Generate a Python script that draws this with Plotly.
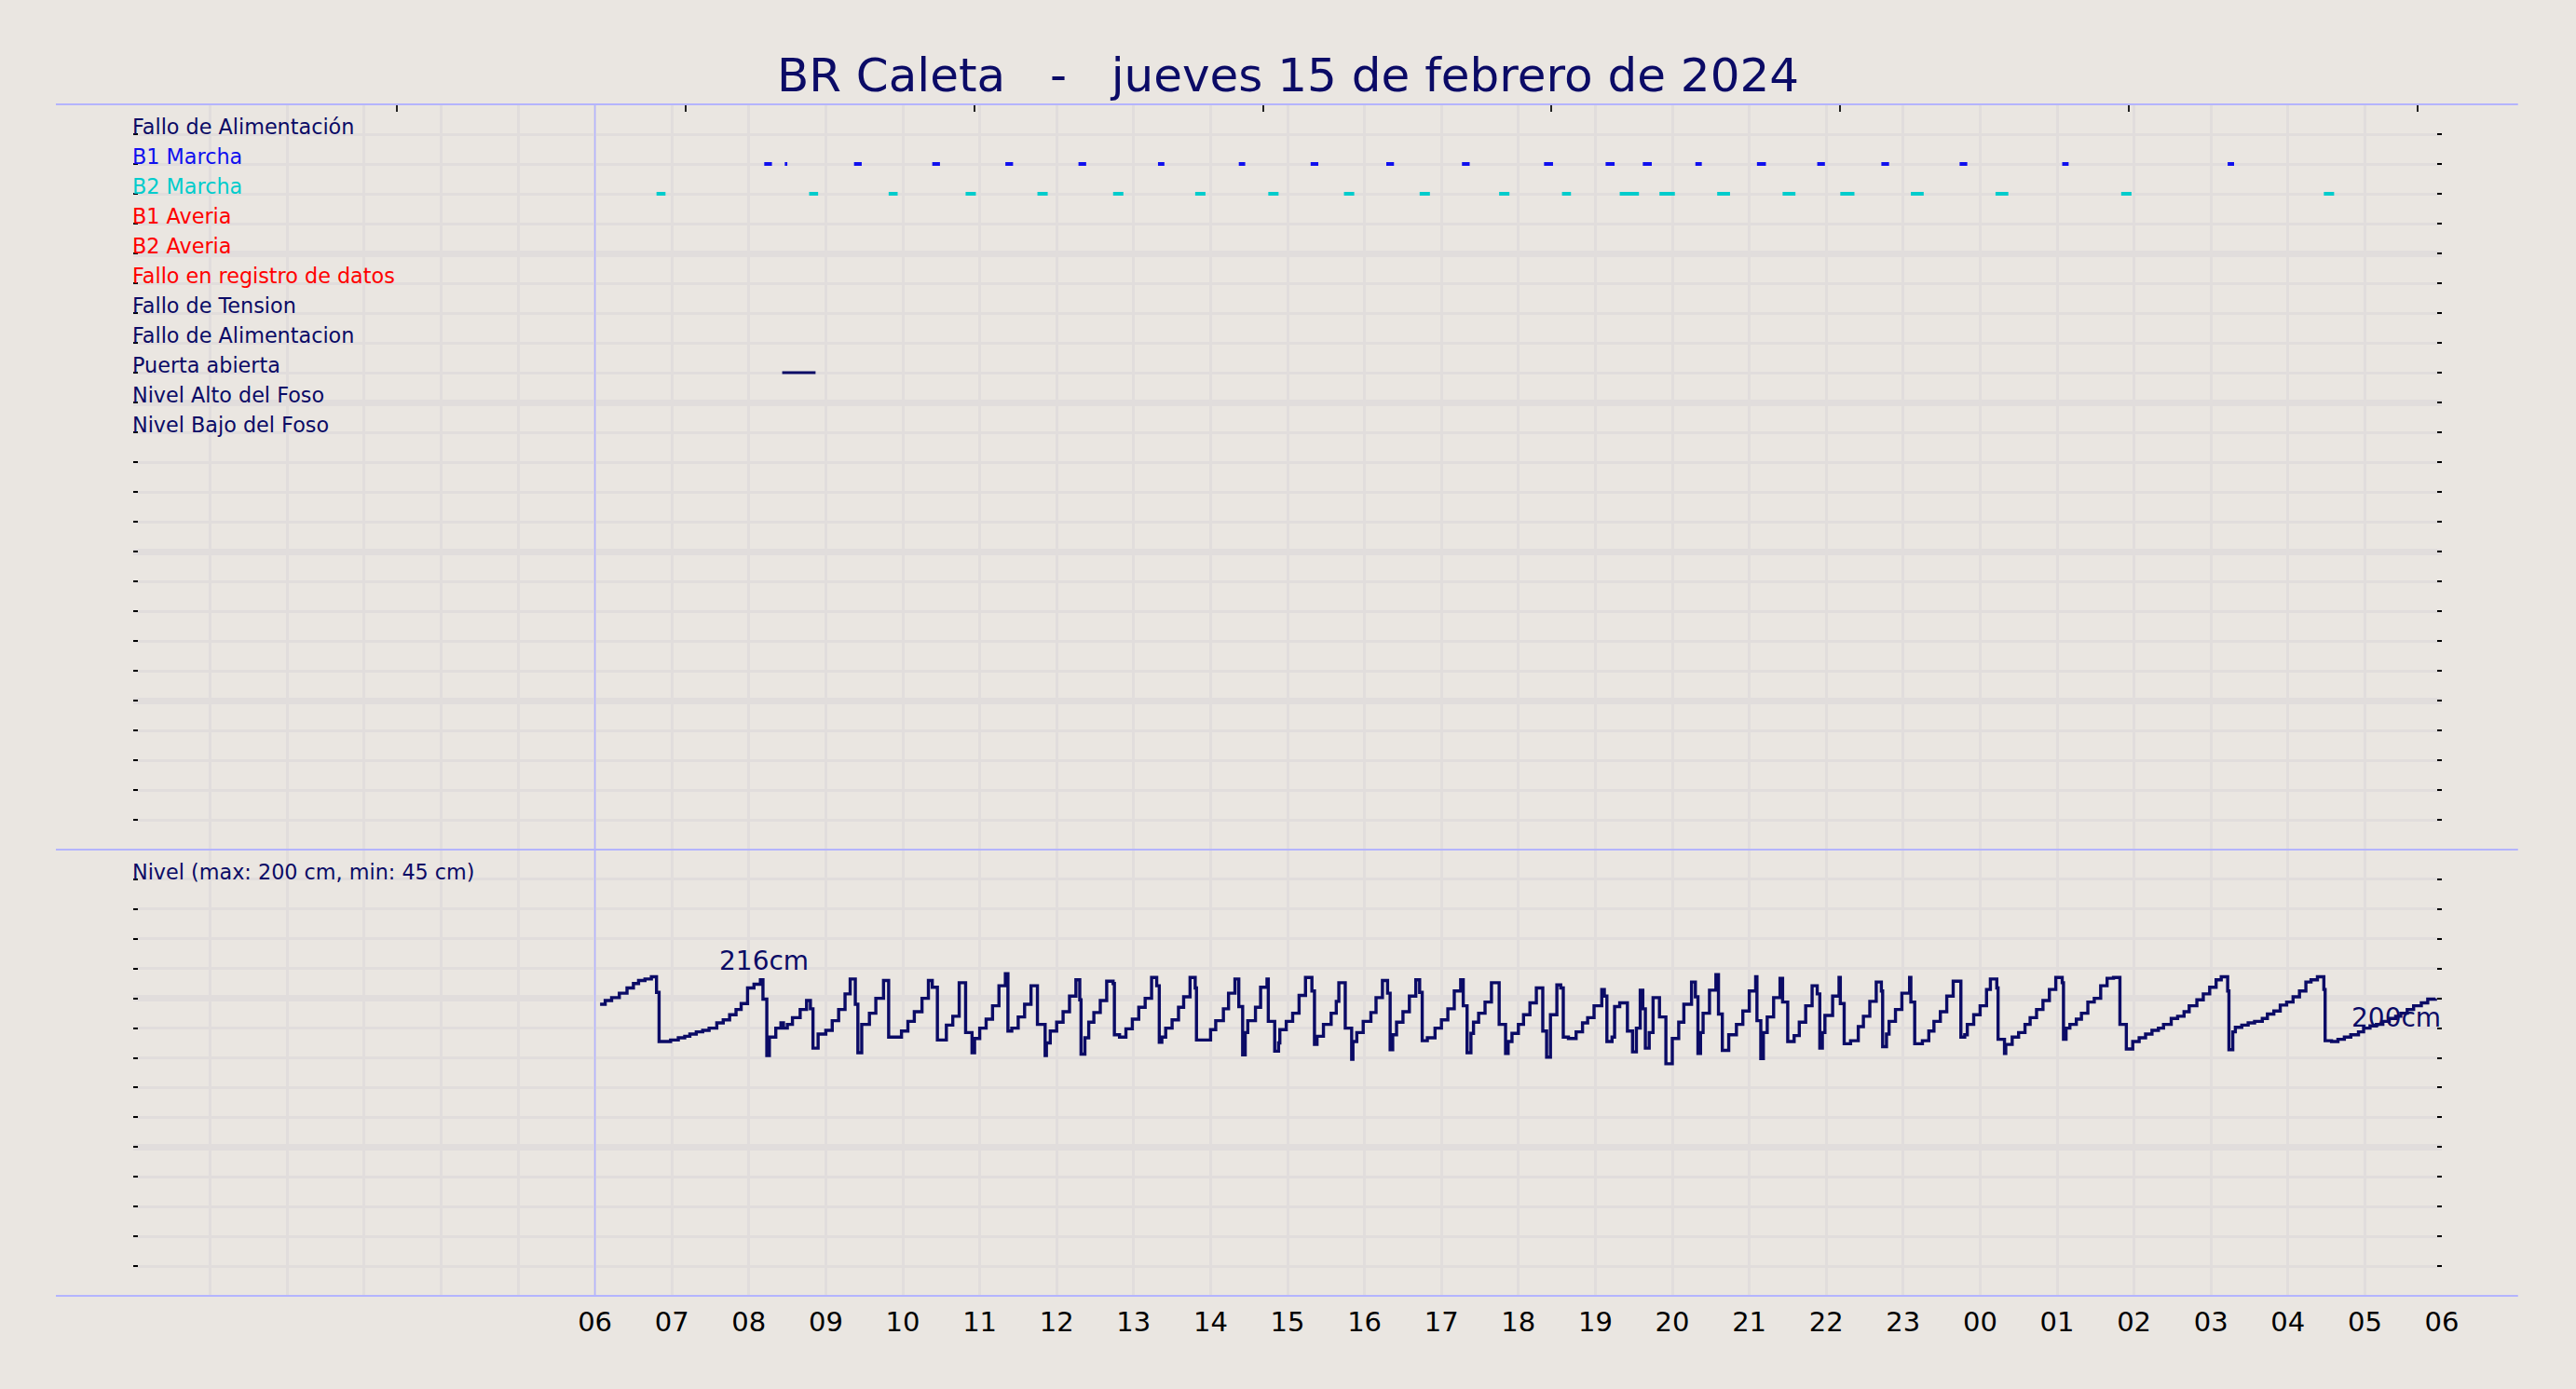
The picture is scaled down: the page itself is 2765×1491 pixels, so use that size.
import plotly.graph_objects as go
from datetime import datetime, timedelta

# ---------------- data ----------------
TITLE = "BR Caleta\u00a0\u00a0\u00a0-\u00a0\u00a0\u00a0jueves 15 de febrero de 2024"

row_labels = ["Fallo de Alimentación", "B1 Marcha", "B2 Marcha", "B1 Averia", "B2 Averia",
              "Fallo en registro de datos", "Fallo de Tension", "Fallo de Alimentacion",
              "Puerta abierta", "Nivel Alto del Foso", "Nivel Bajo del Foso"]
row_values = [24, 23, 22, 21, 20, 19, 18, 17, 16, 15, 14]
row_colors = ["#0B0B66", "#1010EE", "#00CCCC", "#FF0000", "#FF0000",
              "#FF0000", "#0B0B66", "#0B0B66", "#0B0B66", "#0B0B66", "#0B0B66"]

b1_start = ["2024-02-15 08:12", "2024-02-15 08:28", "2024-02-15 09:22", "2024-02-15 10:23",
            "2024-02-15 11:20", "2024-02-15 12:17", "2024-02-15 13:19", "2024-02-15 14:22",
            "2024-02-15 15:18", "2024-02-15 16:17", "2024-02-15 17:16", "2024-02-15 18:20",
            "2024-02-15 19:08", "2024-02-15 19:37", "2024-02-15 20:18", "2024-02-15 21:06",
            "2024-02-15 21:53", "2024-02-15 22:43", "2024-02-15 23:44", "2024-02-16 01:04",
            "2024-02-16 03:13"]
b1_end = ["2024-02-15 08:18", "2024-02-15 08:30", "2024-02-15 09:28", "2024-02-15 10:29",
          "2024-02-15 11:26", "2024-02-15 12:23", "2024-02-15 13:24", "2024-02-15 14:27",
          "2024-02-15 15:24", "2024-02-15 16:23", "2024-02-15 17:22", "2024-02-15 18:27",
          "2024-02-15 19:15", "2024-02-15 19:44", "2024-02-15 20:23", "2024-02-15 21:13",
          "2024-02-15 21:59", "2024-02-15 22:49", "2024-02-15 23:50", "2024-02-16 01:09",
          "2024-02-16 03:18"]

b2_start = ["2024-02-15 06:48", "2024-02-15 08:47", "2024-02-15 09:49", "2024-02-15 10:49",
            "2024-02-15 11:45", "2024-02-15 12:44", "2024-02-15 13:48", "2024-02-15 14:45",
            "2024-02-15 15:44", "2024-02-15 16:43", "2024-02-15 17:45", "2024-02-15 18:34",
            "2024-02-15 19:19", "2024-02-15 19:50", "2024-02-15 20:35", "2024-02-15 21:26",
            "2024-02-15 22:11", "2024-02-15 23:06", "2024-02-16 00:12", "2024-02-16 01:50",
            "2024-02-16 04:28"]
b2_end = ["2024-02-15 06:55", "2024-02-15 08:54", "2024-02-15 09:56", "2024-02-15 10:57",
          "2024-02-15 11:53", "2024-02-15 12:52", "2024-02-15 13:56", "2024-02-15 14:53",
          "2024-02-15 15:52", "2024-02-15 16:51", "2024-02-15 17:53", "2024-02-15 18:41",
          "2024-02-15 19:34", "2024-02-15 20:02", "2024-02-15 20:45", "2024-02-15 21:36",
          "2024-02-15 22:22", "2024-02-15 23:16", "2024-02-16 00:22", "2024-02-16 01:58",
          "2024-02-16 04:36"]

puerta_start = ["2024-02-15 08:26"]
puerta_end = ["2024-02-15 08:52"]

# level: minutes after 06:00 and level in cm (step line)
nivel_min = [4, 8, 13, 19, 25, 30, 34, 39, 44, 48, 50, 59, 65, 70, 74, 79, 84, 89, 95, 100,
             105, 110, 114, 119, 124, 129, 131, 134, 136, 141, 145, 147, 150, 154, 160, 165, 168, 170, 174, 180,
             185, 190, 195, 199, 203, 205, 208, 214, 219, 225, 229, 239, 244, 249, 255, 260, 263, 267, 274, 279,
             284, 289, 294, 296, 300, 305, 310, 315, 320, 322, 325, 330, 335, 340, 345, 351, 352, 355,
             360, 365, 370, 375, 378, 379, 382, 385, 389, 394, 399, 404, 405, 409, 414, 419, 424, 429, 434, 438,
             440, 442, 445, 450, 455, 459, 464, 468, 469, 480, 484, 490, 494, 499, 502, 505, 507, 509, 515, 519,
             524, 525, 530, 533, 534, 539, 544, 549, 554, 559, 561, 563, 568, 574, 578, 580, 585, 590, 591, 594,
             599, 605, 609, 614, 618, 620, 622, 625, 630, 635, 640, 643, 645, 649, 655, 660, 665, 670, 675, 677,
             680, 683, 685, 689, 694, 699, 705, 710, 712, 715, 720,
             724, 729, 734, 739, 742, 745, 750, 753, 755, 759, 765, 770, 774, 779, 785, 787, 789, 793, 795, 799,
             805, 809, 812, 815, 817, 819, 822, 825, 830, 835, 840, 845, 849, 855, 858, 860, 862, 864, 869, 874,
             876, 879, 884, 890, 895, 900, 905, 906, 909, 911, 914, 919, 924, 926, 930, 935, 939, 944, 949, 953,
             955, 957, 959, 965, 970, 971, 974, 979, 985, 989, 994, 999, 1003, 1004, 1007, 1009, 1014, 1019, 1025, 1026,
             1029, 1035, 1040, 1044, 1049, 1054, 1059, 1065, 1068, 1070, 1075, 1080, 1085,
             1088, 1093, 1094, 1099, 1100, 1105, 1110, 1115, 1119, 1124, 1129, 1134, 1139, 1144, 1145, 1147, 1150, 1155,
             1159, 1164, 1169, 1174, 1179, 1184, 1189, 1194, 1199, 1204, 1209, 1214, 1219, 1223, 1229, 1234, 1239, 1243,
             1249, 1254, 1259, 1264, 1268, 1273, 1274, 1277, 1279, 1284, 1289, 1294, 1300, 1304, 1309, 1314, 1319, 1324,
             1329, 1334, 1338, 1343, 1348, 1349, 1354, 1359, 1364, 1369, 1375, 1379, 1384, 1389, 1394, 1399, 1404, 1408,
             1413, 1418, 1424, 1429, 1435]
nivel_cm = [196, 198.5, 200.5, 203.5, 207, 210, 212, 213, 214.5, 204, 171, 172, 173.5, 174.5, 176, 177.5, 178.5, 180, 183.5, 185.5,
            189, 192.5, 196.5, 207, 209.5, 212.5, 199.5, 161.5, 174, 180, 183.5, 180, 182.5, 187, 192.5, 198.5, 193, 166.5, 176, 178.5,
            185, 192.5, 203, 213, 196, 163.5, 182.5, 190, 200, 212, 174, 178, 184.5, 191, 200, 212, 207.5, 172, 182, 188,
            210.5, 177, 163.5, 173, 180, 186, 195, 208.5, 216.5, 178, 180, 187.5, 196, 208.5, 182.5, 161.5, 170, 178,
            184, 191, 201.5, 212.5, 199, 162.5, 173.5, 184, 190.5, 198.5, 211.5, 210, 175.5, 174, 179.5, 186, 194, 200, 214, 208.5,
            170.5, 174, 180, 185.5, 194, 201, 214, 207, 172, 179, 185, 193, 203.5, 213, 194.5, 162, 177, 185, 194, 207.5,
            213, 184.5, 164.5, 170, 179, 184.5, 190, 202, 214, 205, 169, 174.5, 182.5, 190, 198, 210.5, 180, 159, 171, 177,
            184.5, 190.5, 200.5, 212, 203.5, 165.5, 175.5, 184, 191, 201.5, 212.5, 204, 171.5, 173.5, 180, 185.5, 193, 205, 212.5, 195,
            163.5, 176.5, 184, 190, 197.5, 210.5, 182.5, 163, 171, 176.5, 182.5,
            189, 197, 207, 178, 160.5, 189, 209, 207, 174, 173, 177.5, 183.5, 187, 195, 206, 201.5, 171, 174, 194.5, 197,
            178, 164, 180, 205.5, 193, 166.5, 177, 200.5, 187.5, 156, 173, 184, 196, 211, 201, 163, 177, 190, 205.5, 216,
            189.5, 165, 175.5, 182.5, 191.5, 205, 214.5, 185, 159.5, 177, 187.5, 200.5, 213.5, 197.5, 171, 175, 184, 195, 208.5, 203,
            166.5, 177, 188.5, 201.5, 214, 196.5, 169.5, 171.5, 181, 188, 198, 211, 205, 167.5, 176, 184.5, 192.5, 203.5, 214, 197.5,
            169.5, 171.5, 178, 184.5, 191, 201.5, 211.5, 174, 175.5, 182.5, 189, 195, 206,
            213, 207, 172.5, 163, 169, 174, 177, 182.5, 187, 192.5, 198.5, 206, 214, 210.5, 172.5, 180, 182.5, 186,
            190, 197.5, 200, 208.5, 213.5, 214, 182.5, 166, 171, 173.5, 176, 178.5, 180, 182.5, 186.5, 188, 191, 195,
            199, 203, 207.5, 212.5, 214.5, 205, 165.5, 177.5, 180.5, 182, 183.5, 184.5, 186.5, 189.5, 191.5, 195.5, 197.5, 201,
            205, 211, 212.5, 214.5, 206, 171.5, 171, 172.5, 174, 175.5, 177.5, 180, 181.5, 182.5, 184.5, 186.5, 188, 190,
            192.5, 195, 197, 199.5, 200]

nivel_label = "Nivel (max: 200 cm, min: 45 cm)"
max_label, max_time, max_cm = "216cm", "2024-02-15 08:12", 225
end_label, end_time, end_cm = "200cm", "2024-02-16 05:56", 187

top_ticks_h = [3.43, 7.18, 10.93, 14.68, 18.43, 22.18, 25.93, 29.68]

# ---------------- styling ----------------
BG = "#EAE6E1"
GRID = "#E1DDDC"
NAVY = "#0B0B66"
LINEBLUE = "#B4B4FF"
FONT = "DejaVu Sans"
LABEL_SIZE = 22.3

day0 = datetime(2024, 2, 15, 0, 0)
start6 = datetime(2024, 2, 15, 6, 0)
hours = [day0 + timedelta(hours=h) for h in range(31)]
hour_text = ["" if h < 6 else (day0 + timedelta(hours=h)).strftime("%H") for h in range(31)]

def segs(starts, ends, yv):
    xs, ys = [], []
    for s, e in zip(starts, ends):
        xs += [s, e, None]
        ys += [yv, yv, None]
    return xs, ys

fig = go.Figure()

x1, y1 = segs(b1_start, b1_end, row_values[1])
fig.add_trace(go.Scatter(x=x1, y=y1, mode="lines", line=dict(color="#1010EE", width=4),
                         xaxis="x2", yaxis="y2", showlegend=False, hoverinfo="skip"))
x2, y2 = segs(b2_start, b2_end, row_values[2])
fig.add_trace(go.Scatter(x=x2, y=y2, mode="lines", line=dict(color="#00CCCC", width=4),
                         xaxis="x2", yaxis="y2", showlegend=False, hoverinfo="skip"))
x3, y3 = segs(puerta_start, puerta_end, row_values[8])
fig.add_trace(go.Scatter(x=x3, y=y3, mode="lines", line=dict(color=NAVY, width=3),
                         xaxis="x2", yaxis="y2", showlegend=False, hoverinfo="skip"))
# dummy trace so the top tick axis is drawn
fig.add_trace(go.Scatter(x=[None], y=[None], xaxis="x3", yaxis="y2", showlegend=False, hoverinfo="skip"))

nivel_x = [start6 + timedelta(minutes=m) for m in nivel_min]
fig.add_trace(go.Scatter(x=nivel_x, y=nivel_cm, mode="lines", line=dict(color=NAVY, width=3.4, shape="hv"),
                         xaxis="x", yaxis="y", showlegend=False, hoverinfo="skip"))

xr = [day0, day0 + timedelta(hours=30)]
common_x = dict(type="date", range=xr, tickmode="array", tickvals=hours, ticktext=hour_text,
                showgrid=True, gridcolor=GRID, gridwidth=3, zeroline=False, showline=False, ticks="")

split = 479 / 1279
annotations = []
for lab, v, c in zip(row_labels, row_values, row_colors):
    annotations.append(dict(text=lab, x=0, xref="paper", xanchor="left", xshift=-3,
                            y=v, yref="y2", yanchor="bottom", yshift=-7, showarrow=False,
                            font=dict(family=FONT, size=LABEL_SIZE, color=c)))
annotations.append(dict(text=nivel_label, x=0, xref="paper", xanchor="left", xshift=-3,
                        y=280, yref="y", yanchor="bottom", yshift=-7, showarrow=False,
                        font=dict(family=FONT, size=LABEL_SIZE, color=NAVY)))
annotations.append(dict(text=max_label, x=max_time, xref="x", y=max_cm, yref="y", showarrow=False,
                        xanchor="center", yanchor="middle", font=dict(family=FONT, size=28, color=NAVY)))
annotations.append(dict(text=end_label, x=end_time, xref="x", y=end_cm, yref="y", showarrow=False,
                        xanchor="right", yanchor="middle", xshift=7,
                        font=dict(family=FONT, size=28, color=NAVY)))

shapes = []
for yp in [1, split, 0]:
    shapes.append(dict(type="line", xref="paper", yref="paper", x0=-0.0335, x1=1.033, y0=yp, y1=yp,
                       line=dict(color=LINEBLUE, width=2)))
shapes.append(dict(type="line", xref="x", yref="paper", x0=start6, x1=start6, y0=0, y1=1,
                   line=dict(color=LINEBLUE, width=1.5)))

fig.update_layout(
    width=2765, height=1491,
    paper_bgcolor=BG, plot_bgcolor=BG,
    margin=dict(l=143, r=144, t=112, b=100),
    font=dict(family=FONT, color="black"),
    title=dict(text=TITLE, x=0.5, xanchor="center", y=1 - 80 / 1491, yanchor="middle",
               font=dict(family=FONT, size=50, color=NAVY)),
    xaxis=dict(anchor="y", domain=[0, 1], ticklabelstandoff=8,
               tickfont=dict(family=FONT, size=29, color="black"), **common_x),
    xaxis2=dict(anchor="y2", domain=[0, 1], matches="x", showticklabels=False, **common_x),
    xaxis3=dict(overlaying="x2", anchor="y2", side="top", range=[0, 30], tickmode="array",
                tickvals=top_ticks_h, ticks="inside", ticklen=8, tickwidth=2, tickcolor="#222222",
                showticklabels=False, showgrid=False, zeroline=False, showline=False),
    yaxis=dict(domain=[0, split], range=[0, 300], tickmode="linear", tick0=0, dtick=100,
               showgrid=True, gridcolor=GRID, gridwidth=7, zeroline=False, showticklabels=False,
               ticks="inside", ticklen=5, tickwidth=2, tickcolor="black", mirror="ticks",
               minor=dict(dtick=20, tick0=0, showgrid=True, gridcolor=GRID, gridwidth=3,
                          ticks="inside", ticklen=5, tickwidth=2, tickcolor="black")),
    yaxis2=dict(domain=[split, 1], range=[0, 25], tickmode="linear", tick0=0, dtick=5,
                showgrid=True, gridcolor=GRID, gridwidth=7, zeroline=False, showticklabels=False,
                ticks="inside", ticklen=5, tickwidth=2, tickcolor="black", mirror="ticks",
                minor=dict(dtick=1, tick0=0, showgrid=True, gridcolor=GRID, gridwidth=3,
                           ticks="inside", ticklen=5, tickwidth=2, tickcolor="black")),
    annotations=annotations,
    shapes=shapes,
)

fig.write_html("out.html", config={"displayModeBar": False},
               post_script="document.body.style.margin='0';document.body.style.background='#EAE6E1';")
